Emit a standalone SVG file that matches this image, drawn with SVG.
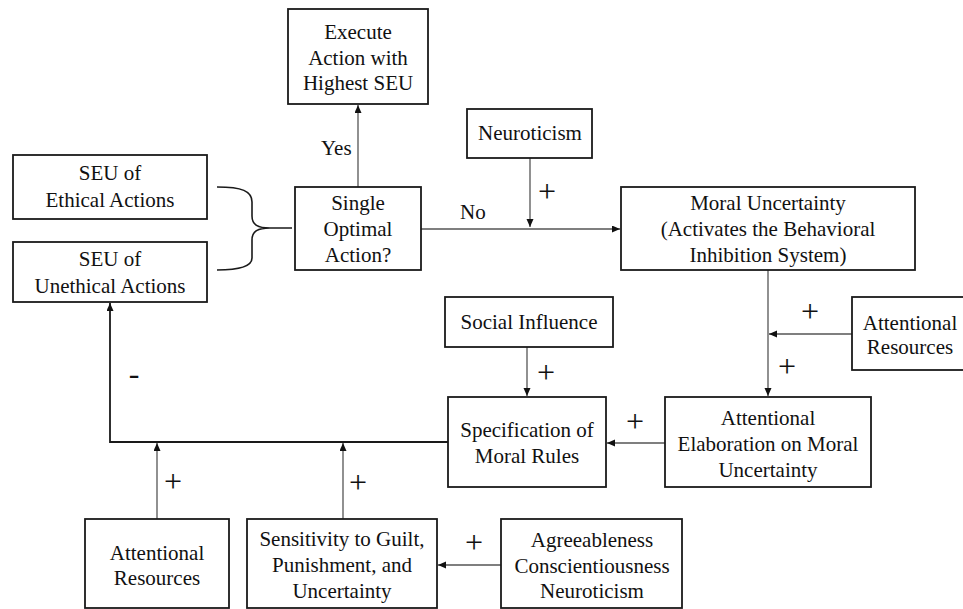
<svg xmlns="http://www.w3.org/2000/svg" width="963" height="609" viewBox="0 0 963 609">
<defs>
<marker id="ah" markerUnits="userSpaceOnUse" markerWidth="9" markerHeight="8" refX="8" refY="3.5" orient="auto">
<path d="M0,0 L8,3.5 L0,7 z" fill="#111"/>
</marker>
<style>
.box{fill:#fff;stroke:#1a1a1a;stroke-width:1.8}
.t{font-size:21px;fill:#111;text-anchor:middle}
.l{font-size:21px;fill:#111}
.p{font-size:32px;fill:#111;text-anchor:middle}
.c{fill:none;stroke:#555;stroke-width:1.3}
.ca{fill:none;stroke:#555;stroke-width:1.3;marker-end:url(#ah)}
.ck{fill:none;stroke:#1a1a1a;stroke-width:1.8;marker-end:url(#ah)}
</style>
</defs>
<rect width="963" height="609" fill="#fff"/>
<g id="connectors" font-family="Liberation Serif, Times New Roman, serif">
<line class="ca" x1="358" y1="187" x2="358" y2="105"/>
<line class="ca" x1="421" y1="229" x2="620" y2="229"/>
<line class="ca" x1="530" y1="158" x2="530" y2="227"/>
<line class="ca" x1="768" y1="270" x2="768" y2="396"/>
<line class="ca" x1="852" y1="334" x2="769" y2="334"/>
<line class="ca" x1="665" y1="443" x2="607" y2="443"/>
<line class="ca" x1="527" y1="347" x2="527" y2="396"/>
<polyline class="ck" points="448,442 110,442 110,303"/>
<line class="ca" x1="157" y1="519" x2="157" y2="443"/>
<line class="ca" x1="343" y1="519" x2="343" y2="443"/>
<line class="ca" x1="501" y1="565" x2="438" y2="565"/>
<path class="ck" style="marker-end:none;stroke-width:1.6" d="M217,187 C242,187 252,191 252,202 L252,216 C252,225 258,228 270,228 L292,228 M270,228 C258,228 252,231 252,240 L252,258 C252,266 242,270 217,270"/>
<text class="l" x="321" y="155">Yes</text>
<text class="l" x="460" y="219">No</text>
<text class="p" x="547" y="202">+</text>
<text class="p" x="546" y="383">+</text>
<text class="p" x="635" y="432">+</text>
<text class="p" x="810" y="322">+</text>
<text class="p" x="787" y="377">+</text>
<text class="p" x="474" y="553">+</text>
<text class="p" x="173" y="492">+</text>
<text class="p" x="358" y="493">+</text>
<text class="p" x="134" y="384">-</text>
</g>
<g font-family="Liberation Serif, Times New Roman, serif">
<g id="execute">
<rect class="box" x="288" y="9" width="140" height="95"/>
<text class="t" x="358" y="39">Execute</text>
<text class="t" x="358" y="65">Action with</text>
<text class="t" x="358" y="90">Highest SEU</text>
</g>
<g id="seu-ethical">
<rect class="box" x="13" y="155" width="194" height="64"/>
<text class="t" x="110" y="180">SEU of</text>
<text class="t" x="110" y="207">Ethical Actions</text>
</g>
<g id="seu-unethical">
<rect class="box" x="13" y="242" width="194" height="60"/>
<text class="t" x="110" y="266">SEU of</text>
<text class="t" x="110" y="293">Unethical Actions</text>
</g>
<g id="single-optimal">
<rect class="box" x="295" y="187" width="126" height="83"/>
<text class="t" x="358" y="210">Single</text>
<text class="t" x="358" y="236">Optimal</text>
<text class="t" x="358" y="262">Action?</text>
</g>
<g id="neuroticism-top">
<rect class="box" x="467" y="109" width="125" height="49"/>
<text class="t" x="530" y="140">Neuroticism</text>
</g>
<g id="moral-uncertainty">
<rect class="box" x="621" y="187" width="294" height="83"/>
<text class="t" x="768" y="210">Moral Uncertainty</text>
<text class="t" x="768" y="236">(Activates the Behavioral</text>
<text class="t" x="768" y="262">Inhibition System)</text>
</g>
<g id="attentional-resources-right">
<rect class="box" x="852" y="297" width="120" height="73"/>
<text class="t" x="910" y="330">Attentional</text>
<text class="t" x="910" y="354">Resources</text>
</g>
<g id="social-influence">
<rect class="box" x="445" y="297" width="168" height="50"/>
<text class="t" x="529" y="329">Social Influence</text>
</g>
<g id="specification">
<rect class="box" x="448" y="397" width="158" height="90"/>
<text class="t" x="527" y="437">Specification of</text>
<text class="t" x="527" y="463">Moral Rules</text>
</g>
<g id="attentional-elaboration">
<rect class="box" x="665" y="397" width="206" height="90"/>
<text class="t" x="768" y="425">Attentional</text>
<text class="t" x="768" y="451">Elaboration on Moral</text>
<text class="t" x="768" y="477">Uncertainty</text>
</g>
<g id="attentional-resources-bottom">
<rect class="box" x="85" y="519" width="144" height="89"/>
<text class="t" x="157" y="560">Attentional</text>
<text class="t" x="157" y="585">Resources</text>
</g>
<g id="sensitivity">
<rect class="box" x="247" y="519" width="190" height="89"/>
<text class="t" x="342" y="546">Sensitivity to Guilt,</text>
<text class="t" x="342" y="572">Punishment, and</text>
<text class="t" x="342" y="598">Uncertainty</text>
</g>
<g id="traits">
<rect class="box" x="501" y="519" width="181" height="89"/>
<text class="t" x="592" y="547">Agreeableness</text>
<text class="t" x="592" y="573">Conscientiousness</text>
<text class="t" x="592" y="598">Neuroticism</text>
</g>
</g>
</svg>
